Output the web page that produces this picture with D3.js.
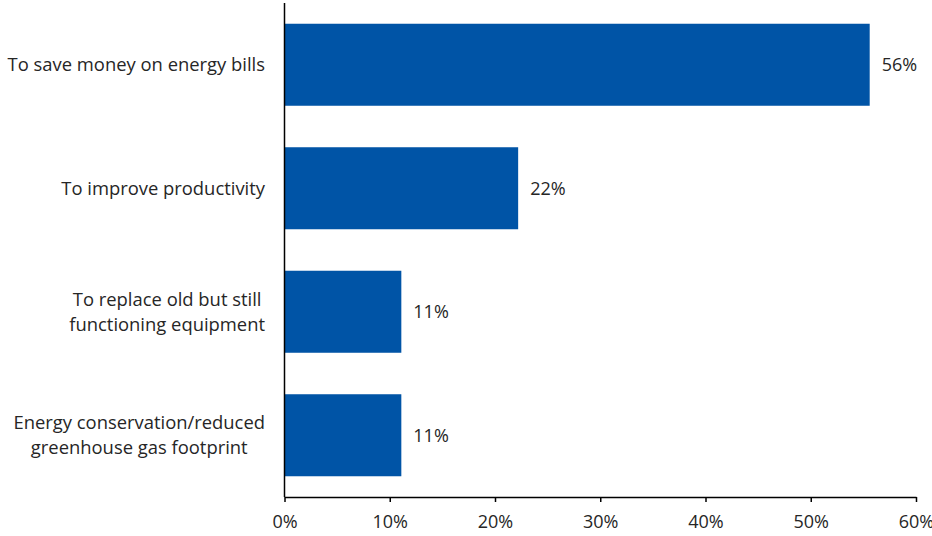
<!DOCTYPE html>
<html>
<head>
<meta charset="utf-8">
<script src="https://cdn.jsdelivr.net/npm/d3@7"></script>
<style>
  html, body { margin: 0; padding: 0; background: #fff; }
  svg text { font-family: "Open Sans", Lato, "Liberation Sans", sans-serif; fill: #262626; }
</style>
</head>
<body>
<svg id="chart" width="932" height="536"></svg>
<script>
// Reasons for upgrading equipment (share of respondents)
const categories = [
  ["To save money on energy bills"],
  ["To improve productivity"],
  ["To replace old but still", "functioning equipment"],
  ["Energy conservation/reduced", "greenhouse gas footprint"]
];
const values = [0.556, 0.222, 0.111, 0.111];
const xTicks = [0, 0.1, 0.2, 0.3, 0.4, 0.5, 0.6];

const svg = d3.select("#chart");
const plotLeft = 284.5, plotRight = 916, plotTop = 3, plotBottom = 497;
const labelRight = 265;

const x = d3.scaleLinear().domain([0, 0.6]).range([plotLeft, plotRight]);
const y = d3.scaleBand()
  .domain(d3.range(categories.length))
  .range([plotTop, plotBottom])
  .paddingInner(0.336)
  .paddingOuter(0.168);

const pct = d3.format(".0%");

// bars
svg.append("g").selectAll("rect")
  .data(values)
  .join("rect")
  .attr("x", x(0))
  .attr("y", (d, i) => y(i))
  .attr("width", d => x(d) - x(0))
  .attr("height", y.bandwidth())
  .attr("fill", "#0054a6");

// value labels
svg.append("g").selectAll("text")
  .data(values)
  .join("text")
  .attr("x", d => x(d) + 12)
  .attr("y", (d, i) => y(i) + y.bandwidth() / 2)
  .attr("dy", "0.35em")
  .attr("font-size", 18)
  .text(d => pct(d));

// x axis
const xAxis = d3.axisBottom(x)
  .tickValues(xTicks)
  .tickFormat(pct)
  .tickSize(5)
  .tickSizeOuter(0)
  .tickPadding(13);
const gx = svg.append("g")
  .attr("transform", `translate(0,${plotBottom})`)
  .call(xAxis);
gx.select(".domain").attr("stroke", "#000").attr("stroke-width", 1.5);
gx.selectAll(".tick line").attr("stroke", "#000").attr("stroke-width", 1.5);
gx.selectAll(".tick text").attr("font-size", 18).attr("fill", "#262626")
  .attr("font-family", "'Open Sans', sans-serif");

// y axis line
svg.append("line")
  .attr("x1", plotLeft).attr("x2", plotLeft)
  .attr("y1", plotTop).attr("y2", plotBottom)
  .attr("stroke", "#000").attr("stroke-width", 1.5);

// category labels: lines centred within a block that is right-aligned to the axis
const lineH = 25;
svg.append("g").selectAll("text")
  .data(categories)
  .join("text")
  .attr("text-anchor", "middle")
  .attr("font-size", 18.4)
  .each(function (lines, i) {
    const t = d3.select(this);
    const off = -(lines.length - 1) * lineH / 2;
    const spans = lines.map((ln, k) =>
      t.append("tspan")
        .attr("x", 0)
        .attr("y", off + k * lineH)
        .attr("dy", "0.35em")
        .text(ln));
    const maxW = d3.max(spans, s => s.node().getComputedTextLength());
    t.attr("transform", `translate(${labelRight - maxW / 2},${y(i) + y.bandwidth() / 2})`);
  });
</script>
</body>
</html>
